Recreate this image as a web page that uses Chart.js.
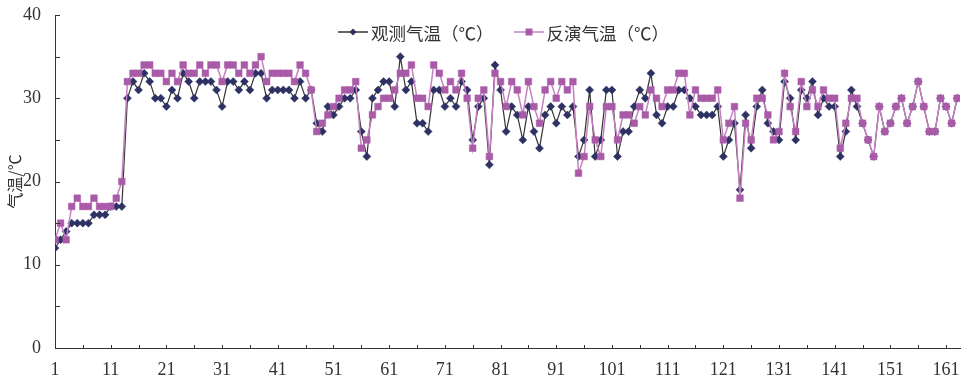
<!DOCTYPE html>
<html>
<head>
<meta charset="utf-8">
<script src="https://cdn.jsdelivr.net/npm/chart.js@4.4.1/dist/chart.umd.min.js"></script>
<style>
  html, body { margin: 0; padding: 0; background: #fff; }
  #wrap { position: relative; width: 962px; height: 378px; }
  #legend {
    position: absolute; left: 338px; top: 21px; height: 22px;
    display: flex; align-items: center;
    font-family: "Noto Sans CJK SC", sans-serif; font-size: 17.5px; color: #333;
    white-space: nowrap;
  }
  #legend .item { display: flex; align-items: center; }
  #legend .item + .item { margin-left: 20px; }
  #legend svg { margin-right: 3px; }
</style>
</head>
<body>
<div id="wrap">
  <canvas id="chart" width="962" height="378"></canvas>
  <div id="legend"></div>
</div>
<script>
// 序号（天）
const days = Array.from({ length: 163 }, (_, i) => i + 1);

// 观测气温（℃）
const observed = [
  12, 13, 14, 15, 15, 15, 15, 16, 16, 16, 17, 17, 17, 30, 32, 31, 33, 32, 30, 30,
  29, 31, 30, 33, 32, 30, 32, 32, 32, 31, 29, 32, 32, 31, 32, 31, 33, 33, 30, 31,
  31, 31, 31, 30, 32, 30, 31, 27, 26, 29, 28, 29, 30, 30, 31, 26, 23, 30, 31, 32,
  32, 29, 35, 31, 32, 27, 27, 26, 31, 31, 29, 30, 29, 32, 31, 25, 29, 30, 22, 34,
  31, 26, 29, 28, 25, 29, 26, 24, 28, 29, 27, 29, 28, 29, 23, 25, 31, 23, 25, 31,
  31, 23, 26, 26, 29, 31, 30, 33, 28, 27, 29, 29, 31, 31, 30, 29, 28, 28, 28, 29,
  23, 25, 27, 19, 28, 24, 29, 31, 27, 26, 25, 32, 30, 25, 31, 30, 32, 28, 30, 29,
  29, 23, 26, 31, 29, 27, 25, 23, 29, 26, 27, 29, 30, 27, 29, 32, 29, 26, 26, 30,
  29, 27, 30
];

// 反演气温（℃）
const inverted = [
  13, 15, 13, 17, 18, 17, 17, 18, 17, 17, 17, 18, 20, 32, 33, 33, 34, 34, 33, 33,
  32, 33, 32, 34, 33, 33, 34, 33, 34, 34, 32, 34, 34, 33, 34, 33, 34, 35, 32, 33,
  33, 33, 33, 32, 34, 33, 31, 26, 27, 28, 29, 30, 31, 31, 32, 24, 25, 28, 29, 30,
  30, 31, 33, 33, 34, 30, 30, 29, 34, 33, 31, 32, 31, 33, 30, 24, 30, 31, 23, 33,
  32, 29, 32, 31, 28, 32, 29, 27, 31, 32, 30, 32, 31, 32, 21, 23, 29, 25, 23, 29,
  29, 25, 28, 28, 27, 29, 28, 31, 30, 29, 31, 31, 33, 33, 28, 31, 30, 30, 30, 31,
  25, 27, 29, 18, 27, 25, 30, 30, 28, 25, 26, 33, 29, 26, 32, 29, 31, 29, 31, 30,
  30, 24, 27, 30, 30, 27, 25, 23, 29, 26, 27, 29, 30, 27, 29, 32, 29, 26, 26, 30,
  29, 27, 30
];

// 坐标轴刻度
const xTicks = [1, 6, 11, 16, 21, 26, 31, 36, 41, 46, 51, 56, 61, 66, 71, 76, 81,
  86, 91, 96, 101, 106, 111, 116, 121, 126, 131, 136, 141, 146, 151, 156, 161];
const yTicks = [0, 5, 10, 15, 20, 25, 30, 35, 40];

const AXIS_COLOR = "#333";
const OBS_LINE = "#333";
const OBS_MARK = "#2d3163";
const INV_LINE = "#c480c1";
const INV_MARK = "#a95ba8";

// 刻度线朝内画
const innerTicks = {
  id: "innerTicks",
  afterDraw(chart) {
    const { ctx, chartArea, scales: { x, y } } = chart;
    ctx.save();
    ctx.strokeStyle = AXIS_COLOR;
    ctx.lineWidth = 1;
    ctx.beginPath();
    x.ticks.forEach(t => {
      const px = Math.round(x.getPixelForValue(t.value)) + 0.5;
      ctx.moveTo(px, chartArea.bottom);
      ctx.lineTo(px, chartArea.bottom - 3);
    });
    y.ticks.forEach(t => {
      const py = Math.round(y.getPixelForValue(t.value)) + 0.5;
      ctx.moveTo(chartArea.left, py);
      ctx.lineTo(chartArea.left + 5, py);
    });
    ctx.stroke();
    ctx.restore();
  }
};

const tickFont = { family: "'Liberation Serif', serif", size: 18 };

new Chart(document.getElementById("chart"), {
  type: "line",
  data: {
    labels: days,
    datasets: [
      {
        label: "观测气温（℃）",
        data: observed,
        order: 2,
        borderColor: OBS_LINE,
        borderWidth: 1.2,
        pointStyle: "rectRot",
        pointRadius: 4,
        pointBackgroundColor: OBS_MARK,
        pointBorderColor: OBS_MARK,
        pointBorderWidth: 0.5,
        tension: 0
      },
      {
        label: "反演气温（℃）",
        data: inverted,
        order: 1,
        borderColor: INV_LINE,
        borderWidth: 1.5,
        pointStyle: "rect",
        pointRadius: 4.7,
        pointBackgroundColor: INV_MARK,
        pointBorderColor: INV_MARK,
        pointBorderWidth: 0.5,
        tension: 0
      }
    ]
  },
  options: {
    responsive: false,
    animation: false,
    layout: { autoPadding: false, padding: { top: 15, right: 2, left: 0, bottom: 0 } },
    plugins: {
      legend: { display: false },
      tooltip: { enabled: false }
    },
    scales: {
      x: {
        type: "linear",
        min: 1,
        max: 163.5,
        afterBuildTicks: s => { s.ticks = xTicks.map(v => ({ value: v })); },
        afterFit: s => { s.height = 30; s.paddingLeft = 0; s.paddingRight = 0; },
        grid: { display: false },
        border: { display: true, color: AXIS_COLOR, width: 1 },
        ticks: {
          color: AXIS_COLOR,
          font: tickFont,
          padding: 3,
          maxRotation: 0,
          autoSkip: false,
          callback: v => ((v - 1) % 10 === 0 ? String(v) : "")
        }
      },
      y: {
        min: 0,
        max: 40,
        afterBuildTicks: s => { s.ticks = yTicks.map(v => ({ value: v })); },
        afterFit: s => { s.width = 55; s.paddingTop = 0; s.paddingBottom = 0; },
        grid: { display: false },
        border: { display: true, color: AXIS_COLOR, width: 1 },
        ticks: {
          color: AXIS_COLOR,
          font: tickFont,
          padding: 6,
          autoSkip: false,
          callback: v => (v % 10 === 0 ? String(v) : "")
        },
        title: {
          display: true,
          text: "气温/℃",
          color: AXIS_COLOR,
          font: { family: "'Noto Sans CJK SC', sans-serif", size: 16 },
          padding: { top: 5, bottom: 0 }
        }
      }
    }
  },
  plugins: [innerTicks]
});

// 图例
function legendIcon(line, fill, shape) {
  const mark = shape === "diamond"
    ? `<polygon points="15,2.5 18.5,6 15,9.5 11.5,6" fill="${fill}"/>`
    : `<rect x="11.5" y="2.5" width="7" height="7" fill="${fill}"/>`;
  return `<svg width="30" height="12" viewBox="0 0 30 12">` +
    `<line x1="0" y1="6" x2="30" y2="6" stroke="${line}" stroke-width="1.5"/>${mark}</svg>`;
}
document.getElementById("legend").innerHTML =
  `<span class="item">${legendIcon(OBS_LINE, OBS_MARK, "diamond")}观测气温（℃）</span>` +
  `<span class="item">${legendIcon(INV_LINE, INV_MARK, "rect")}反演气温（℃）</span>`;
</script>
</body>
</html>
